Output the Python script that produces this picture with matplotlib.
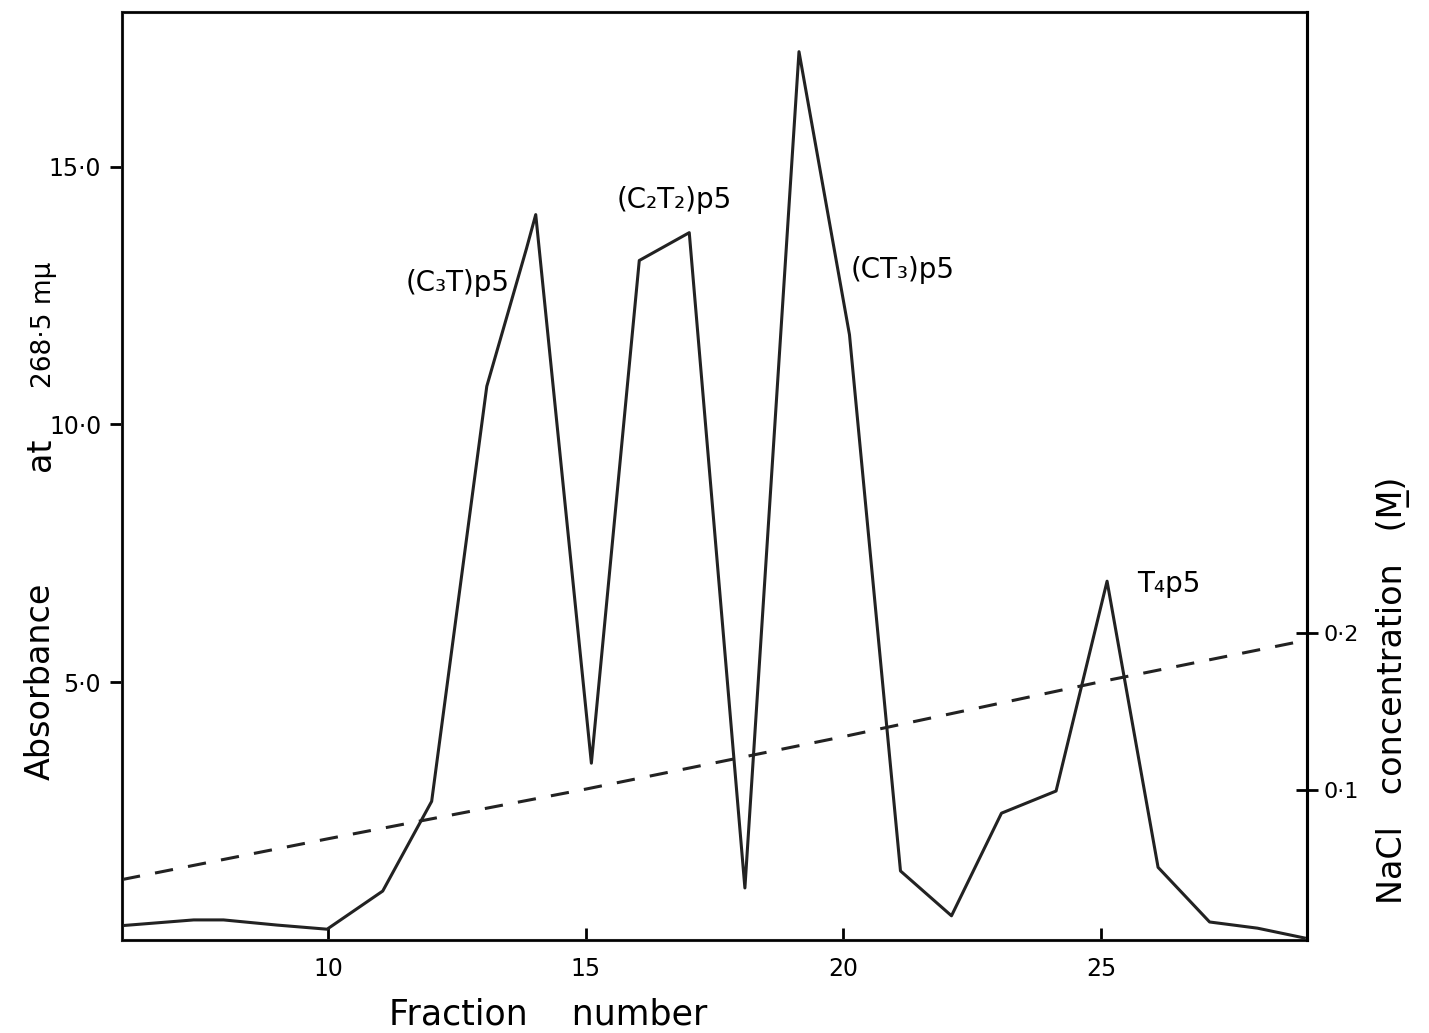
import matplotlib.pyplot as plt

# absorbance profile (solid line)
fraction = [6.01, 7.39, 7.97, 9.01, 9.98, 11.06, 12.01, 13.08, 13.85, 14.03,
            15.11, 16.04, 17.01, 18.09, 19.14, 20.12, 21.11, 22.10, 23.07,
            24.13, 25.12, 26.11, 27.11, 28.04, 28.95]
absorbance = [0.28, 0.39, 0.39, 0.29, 0.21, 0.95, 2.69, 10.74, 13.41, 14.07,
              3.43, 13.18, 13.72, 1.01, 17.23, 11.74, 1.34, 0.47, 2.46,
              2.89, 6.96, 1.41, 0.35, 0.23, 0.04]

# NaCl gradient (dashed line)
grad_fraction = [6, 10, 15, 20, 25, 29]
nacl = [0.043, 0.069, 0.1006, 0.134, 0.169, 0.1955]

# peak labels
peak_labels = ['(C₃T)p5', '(C₂T₂)p5', '(CT₃)p5', 'T₄p5']
peak_pos = [(11.5, 12.75), (15.6, 14.35), (20.15, 13.0), (25.7, 6.9)]

x_ticks = [10, 15, 20, 25]
y_ticks = [5, 10, 15]
y_ticklabels = ['5·0', '10·0', '15·0']
r_ticks = [0.1, 0.2]
r_ticklabels = ['0·1', '0·2']

plt.rcParams['font.family'] = ['DejaVu Sans']

fig = plt.figure(figsize=(14.29, 10.33), dpi=100)
ax = fig.add_axes([0.0854, 0.090, 0.8292, 0.8984])

ax.plot(fraction, absorbance, color='#222222', linewidth=2.2)
ax.set_xlim(6, 29)
ax.set_ylim(0, 18)

ax.set_xticks(x_ticks)
ax.set_xticklabels([str(t) for t in x_ticks], fontsize=17)
ax.set_yticks(y_ticks)
ax.set_yticklabels(y_ticklabels, fontsize=17)
ax.tick_params(axis='x', direction='in', length=9, width=2, pad=12)
ax.tick_params(axis='y', direction='out', length=9, width=2, pad=6)
for sp in ax.spines.values():
    sp.set_linewidth(2.2)
    sp.set_color('#222222')

ax2 = ax.twinx()
ax2.plot(grad_fraction, nacl, color='#222222', linewidth=2.2,
         linestyle=(0, (6, 5)))
ax2.set_ylim(0.0045, 0.5955)
ax2.set_yticks(r_ticks)
ax2.set_yticklabels(r_ticklabels, fontsize=16)
ax2.tick_params(axis='y', direction='inout', length=16, width=2, pad=4)
ax2.spines['right'].set_linewidth(2.2)

for lab, (px, py) in zip(peak_labels, peak_pos):
    ax.text(px, py, lab, fontsize=20, ha='left', va='center')

fig.text(0.272, 0.018, 'Fraction    number', fontsize=25, ha='left', va='center')
fig.text(0.028, 0.245, 'Absorbance', fontsize=24, rotation=90,
         ha='center', va='bottom')
fig.text(0.028, 0.56, 'at', fontsize=24, rotation=90,
         ha='center', va='center')
fig.text(0.031, 0.624, '268·5 mμ', fontsize=19, rotation=90,
         ha='center', va='bottom')
fig.text(0.975, 0.125, 'NaCl   concentration   (M̲)', fontsize=24, rotation=90,
         ha='center', va='bottom')

fig.savefig('out.png', dpi=100)
